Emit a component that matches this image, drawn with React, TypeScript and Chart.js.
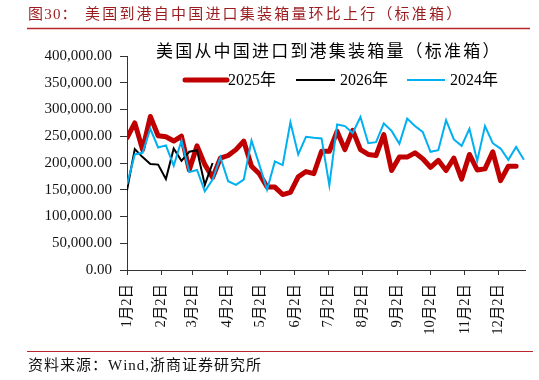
import React, { useEffect, useRef } from "react";
import { Chart, registerables } from "chart.js";

Chart.register(...registerables);

// ---- data ----
const tickLabels = ["1月2日", "2月2日", "3月2日", "4月2日", "5月2日", "6月2日", "7月2日", "8月2日", "9月2日", "10月2日", "11月2日", "12月2日"];
const tickDays = [0, 31, 59, 90, 120, 151, 181, 212, 243, 273, 304, 334];

const series2025 = [247, 275, 225, 287, 251, 249, 241, 250, 187, 232, 197, 173, 209, 214, 225, 241, 194, 180, 155, 155, 141, 145, 174, 184, 180, 222, 222, 259, 225, 261, 225, 216, 214, 253, 186, 211, 211, 219, 208, 192, 205, 186, 209, 170, 216, 187, 189, 221, 167, 194, 194];
const series2026 = [149, 226, 211, 198, 197, 170, 227, 204, 221, 224, 159, 200];
const series2024 = [160, 216, 219, 264, 229, 233, 195, 242, 183, 187, 147, 169, 211, 166, 159, 169, 242, 197, 150, 203, 196, 276, 216, 249, 247, 246, 158, 272, 269, 256, 286, 237, 239, 274, 260, 236, 283, 269, 258, 221, 224, 280, 244, 232, 264, 204, 269, 237, 227, 206, 230, 206];

const yTicks = [0, 50000, 100000, 150000, 200000, 250000, 300000, 350000, 400000];

const headerLabel = "图30：";
const headerText = "美国到港自中国进口集装箱量环比上行（标准箱）";
const chartTitle = "美国从中国进口到港集装箱量（标准箱）";
const sourceText = "资料来源：Wind,浙商证券研究所";

const SERIF = "'Liberation Serif', 'Noto Sans CJK SC', serif";

const toPoints = (arr: number[]) => arr.map((v, i) => ({ x: i * 7, y: v * 1000 }));

function drawSpaced(ctx: CanvasRenderingContext2D, text: string, x: number, y: number, spacing: number) {
  let cx = x;
  for (const ch of Array.from(text)) {
    ctx.fillText(ch, cx, y);
    cx += ctx.measureText(ch).width + spacing;
  }
  return cx;
}

const decorPlugin = {
  id: "decor",
  beforeDraw(chart: any) {
    const ctx = chart.ctx as CanvasRenderingContext2D;
    ctx.save();
    ctx.fillStyle = "#ffffff";
    ctx.fillRect(0, 0, chart.width, chart.height);
    ctx.restore();
  },
  afterDraw(chart: any) {
    const ctx = chart.ctx as CanvasRenderingContext2D;
    ctx.save();
    ctx.textBaseline = "middle";
    ctx.textAlign = "left";

    // header
    ctx.fillStyle = "#9B1C1F";
    ctx.font = `15px ${SERIF}`;
    drawSpaced(ctx, headerLabel, 28, 15, 1.2);
    drawSpaced(ctx, headerText, 85, 15, 2.2);
    ctx.strokeStyle = "#B8262B";
    ctx.lineWidth = 1.5;
    ctx.beginPath();
    ctx.moveTo(27, 28.5);
    ctx.lineTo(530, 28.5);
    ctx.stroke();

    // chart title
    ctx.fillStyle = "#000000";
    ctx.font = `17px ${SERIF}`;
    drawSpaced(ctx, chartTitle, 156, 52.5, 2.2);

    // legend
    const ds = chart.data.datasets;
    const legendItems = [
      { i: 0, x0: 185, x1: 227, tx: 228 },
      { i: 1, x0: 296, x1: 335, tx: 340 },
      { i: 2, x0: 407, x1: 445, tx: 450 },
    ];
    ctx.font = `16px ${SERIF}`;
    for (const it of legendItems) {
      const d = ds[it.i];
      ctx.strokeStyle = d.borderColor;
      ctx.lineWidth = d.borderWidth;
      ctx.lineCap = it.i === 0 ? "round" : "butt";
      ctx.beginPath();
      ctx.moveTo(it.x0, 80);
      ctx.lineTo(it.x1, 80);
      ctx.stroke();
      ctx.fillStyle = "#000000";
      ctx.fillText(d.label, it.tx, 80.5);
    }

    // footer
    ctx.strokeStyle = "#B8262B";
    ctx.lineWidth = 1.2;
    ctx.beginPath();
    ctx.moveTo(27, 351.5);
    ctx.lineTo(533, 351.5);
    ctx.stroke();
    ctx.fillStyle = "#111111";
    ctx.font = `15px ${SERIF}`;
    drawSpaced(ctx, sourceText, 28, 366, 1);
    ctx.restore();
  },
};

export default function App() {
  const canvasRef = useRef<HTMLCanvasElement | null>(null);

  useEffect(() => {
    if (!canvasRef.current) return;
    const chart = new Chart(canvasRef.current, {
      type: "line",
      data: {
        datasets: [
          {
            label: "2025年",
            data: toPoints(series2025),
            borderColor: "#C00000",
            backgroundColor: "#C00000",
            borderWidth: 5,
            pointRadius: 0,
            tension: 0,
            borderJoinStyle: "round",
            borderCapStyle: "round",
            order: 3,
          },
          {
            label: "2026年",
            data: toPoints(series2026),
            borderColor: "#000000",
            backgroundColor: "#000000",
            borderWidth: 2,
            pointRadius: 0,
            tension: 0,
            order: 2,
          },
          {
            label: "2024年",
            data: toPoints(series2024),
            borderColor: "#00B0F0",
            backgroundColor: "#00B0F0",
            borderWidth: 2,
            pointRadius: 0,
            tension: 0,
            order: 1,
          },
        ],
      },
      options: {
        responsive: false,
        animation: false,
        devicePixelRatio: 1,
        layout: { padding: { left: 0, right: 14, top: 56, bottom: 0 } },
        plugins: {
          legend: { display: false },
          title: { display: false },
          tooltip: { enabled: false },
        },
        scales: {
          x: {
            type: "linear",
            min: 0,
            max: 358,
            afterBuildTicks: (s: any) => {
              s.ticks = tickDays.map((v) => ({ value: v }));
            },
            afterFit: (s: any) => {
              s.height = 110;
            },
            grid: { drawOnChartArea: false, drawTicks: true, tickLength: 5, color: "#333333" },
            border: { color: "#333333", width: 1 },
            ticks: {
              autoSkip: false,
              minRotation: 90,
              maxRotation: 90,
              padding: 9,
              color: "#111111",
              font: { family: SERIF, size: 14.5 },
              callback: (v: any) => {
                const idx = tickDays.indexOf(Number(v));
                return idx >= 0 ? tickLabels[idx] : "";
              },
            },
          },
          y: {
            min: 0,
            max: 400000,
            afterBuildTicks: (s: any) => {
              s.ticks = yTicks.map((v) => ({ value: v }));
            },
            afterFit: (s: any) => {
              s.width = 127;
            },
            grid: { drawOnChartArea: false, drawTicks: true, tickLength: 7, color: "#333333" },
            border: { color: "#333333", width: 1 },
            ticks: {
              padding: 8,
              color: "#111111",
              font: { family: SERIF, size: 15 },
              callback: (v: any) =>
                Number(v).toLocaleString("en-US", { minimumFractionDigits: 2, maximumFractionDigits: 2 }),
            },
          },
        },
      } as any,
      plugins: [decorPlugin],
    });
    return () => chart.destroy();
  }, []);

  return (
    <div style={{ position: "fixed", left: 0, top: 0, width: 539, height: 380, background: "#fff" }}>
      <canvas ref={canvasRef} width={539} height={380} style={{ width: 539, height: 380, display: "block" }} />
    </div>
  );
}
